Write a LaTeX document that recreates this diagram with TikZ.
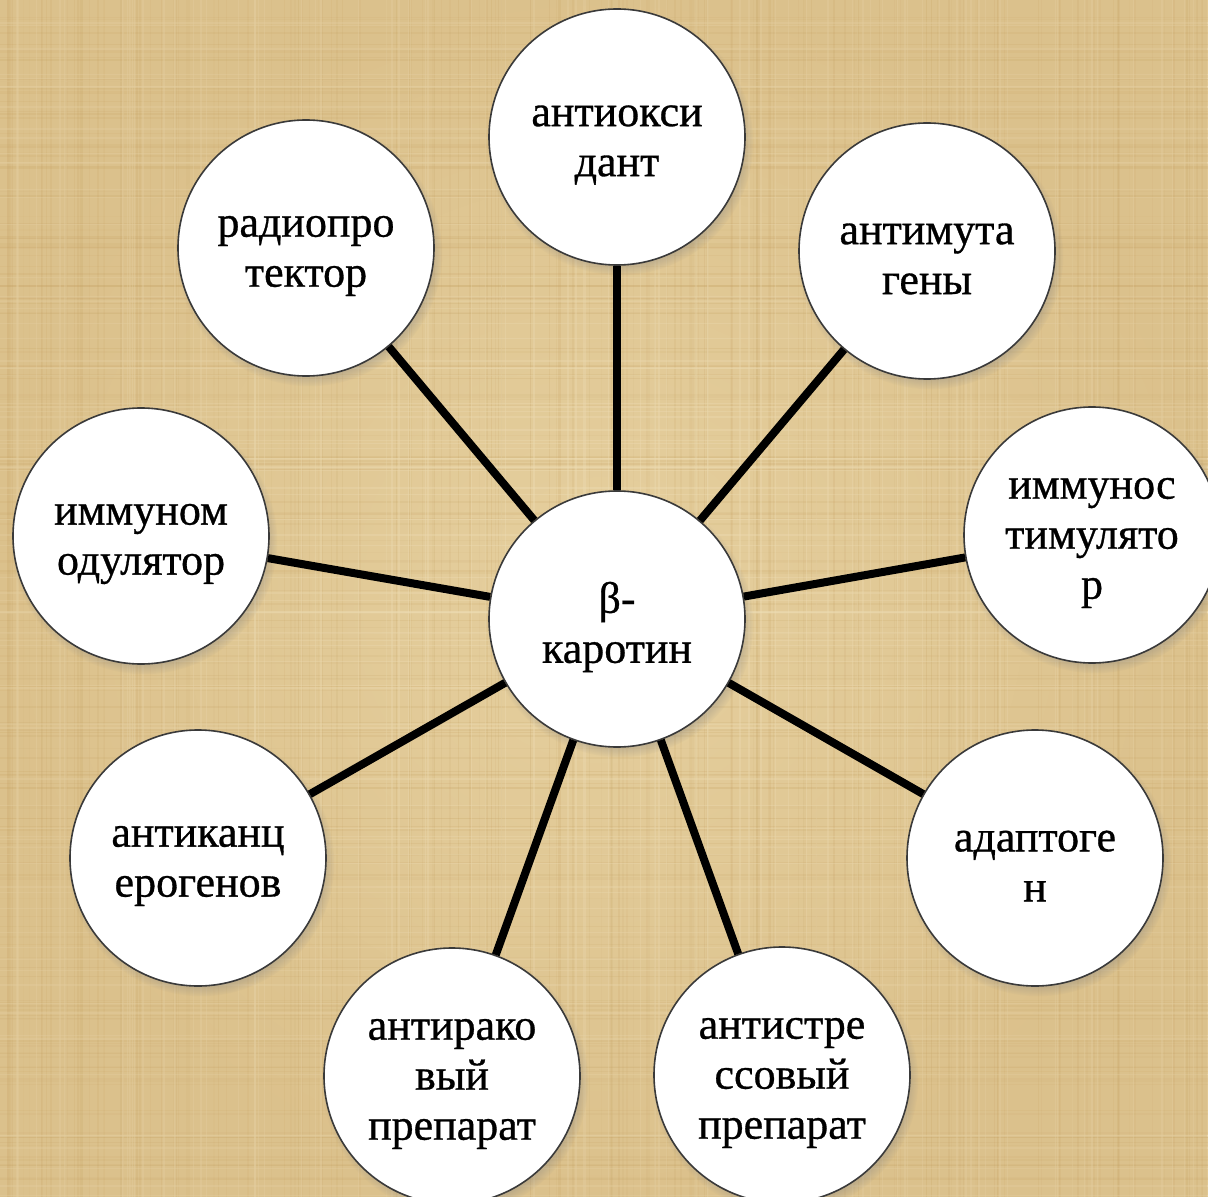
\documentclass[tikz,border=0pt]{standalone}
\usepackage{fontspec}
\setmainfont{Liberation Serif}
\newfontfamily\heavyserif{Liberation Serif}[FakeBold=0.7]
\usetikzlibrary{shadows,fadings}
\definecolor{paper}{HTML}{E6D09F}
\definecolor{paperdark}{HTML}{C29C5C}
\definecolor{paperlight}{HTML}{F2E3BC}
\definecolor{rimgray}{HTML}{3A3A3A}
\tikzfading[name=vignette, inner color=transparent!100, outer color=transparent!72]
\tikzset{
  bubble/.style={circle, draw=rimgray, line width=0.8pt, fill=white,
    minimum size=128pt, inner sep=0pt,
    circular drop shadow={shadow xshift=1.5pt, shadow yshift=-2.5pt, shadow scale=1.04, opacity=0.6}},
  bubbletext/.style={align=center, inner sep=0pt,
    font=\heavyserif\fontsize{22}{25}\selectfont},
  spoke/.style={line width=4pt, black},
  thread/.style={line width=0.7pt},
}
\newcommand{\bubblenode}[3]{%
  \node[bubble] (#1) at (#2) {};
  \node[bubbletext] (#1t) at ([yshift=-4pt]#1.center) {#3};
}
\begin{document}
\begin{tikzpicture}[x=0.5pt,y=-0.5pt]
\clip (0,0) rectangle (1208,1197);
\fill[paper] (0,0) rectangle (1208,1197);
\pgfmathsetseed{42}
\foreach \i in {1,...,170}{
  \pgfmathsetmacro{\xx}{rnd*1208}
  \pgfmathsetmacro{\oo}{0.05+0.12*rnd}
  \draw[thread, color=paperdark, opacity=\oo] (\xx,0) -- (\xx,1197);
  \pgfmathsetmacro{\yy}{rnd*1197}
  \pgfmathsetmacro{\pp}{0.05+0.12*rnd}
  \draw[thread, color=paperdark, opacity=\pp] (0,\yy) -- (1208,\yy);
}
\foreach \i in {1,...,90}{
  \pgfmathsetmacro{\xx}{rnd*1208}
  \pgfmathsetmacro{\yy}{rnd*1197}
  \draw[thread, color=paperlight, opacity=0.35] (\xx,0) -- (\xx,1197);
  \draw[thread, color=paperlight, opacity=0.35] (0,\yy) -- (1208,\yy);
}
\fill[paperdark, path fading=vignette] (0,0) rectangle (1208,1197);

\bubblenode{c}{617,619}{β-\\каротин}
\bubblenode{n1}{617,137}{антиокси\\дант}
\bubblenode{n2}{927,251}{антимута\\гены}
\bubblenode{n3}{1092,535}{иммунос\\тимулято\\р}
\bubblenode{n4}{1035,858}{адаптоге\\н}
\bubblenode{n5}{782,1075}{антистре\\ссовый\\препарат}
\bubblenode{n6}{452,1076}{антирако\\вый\\препарат}
\bubblenode{n7}{198,858}{антиканц\\ерогенов}
\bubblenode{n8}{141,536}{иммуном\\одулятор}
\bubblenode{n9}{306,248}{радиопро\\тектор}

\foreach \n in {n1,n2,n3,n4,n5,n6,n7,n8,n9}{
  \draw[spoke] (c) -- (\n);
}
\end{tikzpicture}
\end{document}
